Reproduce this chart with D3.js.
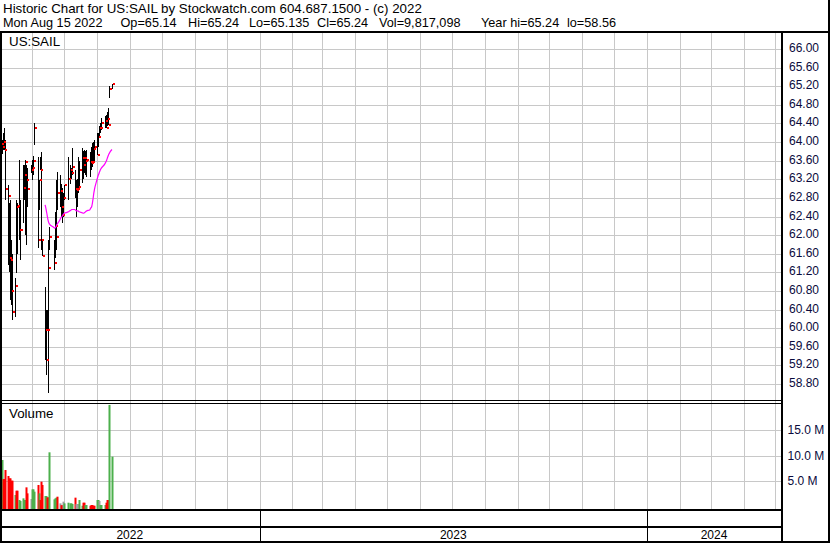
<!DOCTYPE html>
<html><head><meta charset="utf-8">
<script src="https://cdn.jsdelivr.net/npm/d3@7"></script>
<style>
body{margin:0;background:#fff}
svg{display:block}
text{font-family:"Liberation Sans",Arial,sans-serif}
</style>
</head><body>
<svg id="c" width="830" height="543"></svg>
<script>
// ---------------- DATA ----------------
const title1 = "Historic Chart for US:SAIL by Stockwatch.com 604.687.1500 - (c) 2022";
const title2Parts = ["Mon Aug 15 2022","Op=65.14","Hi=65.24","Lo=65.135","Cl=65.24","Vol=9,817,098","Year hi=65.24","lo=58.56"];
const symbol = "US:SAIL";
const volumeLabel = "Volume";

const dates = ["2022-05-02","2022-05-03","2022-05-04","2022-05-05","2022-05-06",
"2022-05-09","2022-05-10","2022-05-11","2022-05-12","2022-05-13",
"2022-05-16","2022-05-17","2022-05-18","2022-05-19","2022-05-20",
"2022-05-23","2022-05-24","2022-05-25","2022-05-26","2022-05-27",
"2022-05-31","2022-06-01","2022-06-02","2022-06-03",
"2022-06-06","2022-06-07","2022-06-08","2022-06-09","2022-06-10",
"2022-06-13","2022-06-14","2022-06-15","2022-06-16","2022-06-17",
"2022-06-21","2022-06-22","2022-06-23","2022-06-24",
"2022-06-27","2022-06-28","2022-06-29","2022-06-30","2022-07-01",
"2022-07-05","2022-07-06","2022-07-07","2022-07-08",
"2022-07-11","2022-07-12","2022-07-13","2022-07-14","2022-07-15",
"2022-07-18","2022-07-19","2022-07-20","2022-07-21","2022-07-22",
"2022-07-25","2022-07-26","2022-07-27","2022-07-28","2022-07-29",
"2022-08-01","2022-08-02","2022-08-03","2022-08-04","2022-08-05",
"2022-08-08","2022-08-09","2022-08-10","2022-08-11","2022-08-12",
"2022-08-15"];

const highs = [64.10,64.05,64.20,64.30,64.04,
63.08,62.70,62.75,61.90,61.60,
61.08,62.75,62.70,63.61,62.75,
63.51,63.51,63.61,63.51,63.45,
63.51,63.61,63.70,64.41,
63.68,63.18,63.68,63.79,61.89,
60.88,60.39,60.39,61.89,62.17,
61.89,62.50,63.18,63.35,
63.30,63.10,63.01,62.90,63.08,
63.68,63.51,63.45,63.87,
63.40,63.18,63.20,63.68,63.60,
63.87,63.80,63.83,63.80,63.83,
63.79,63.90,63.98,64.00,64.04,
64.19,64.20,64.35,64.41,64.52,
64.55,64.58,64.65,64.73,65.20,
65.24];

const lows = [63.70,63.75,63.83,63.83,62.75,
61.35,61.20,60.60,60.50,60.17,
60.24,61.18,61.60,61.89,61.46,
62.26,62.75,62.00,61.79,62.60,
63.33,63.18,63.30,63.94,
61.72,62.54,63.40,61.68,61.55,
59.31,58.99,59.96,58.60,61.68,
61.25,61.50,61.68,62.54,
62.60,62.40,62.26,62.40,62.75,
62.75,63.10,63.20,63.29,
62.80,62.39,62.60,62.90,63.00,
63.12,63.20,63.33,63.30,63.25,
63.25,63.40,63.46,63.60,63.55,
63.72,63.90,64.10,64.20,64.26,
64.30,64.30,64.35,64.37,64.95,
65.135];

const closes = [63.95,63.90,64.00,63.83,63.00,
62.84,61.50,61.46,60.80,60.34,
60.90,62.60,62.62,62.10,62.11,
63.01,63.30,63.57,63.18,63.00,
63.40,63.44,63.60,64.30,
61.89,63.18,63.40,61.90,61.55,
59.96,59.31,59.96,61.30,61.96,
61.40,62.20,61.96,62.90,
62.95,62.60,62.43,62.80,63.08,
63.20,63.40,63.33,63.46,
63.00,62.97,63.00,63.03,63.40,
63.66,63.50,63.66,63.60,63.61,
63.57,63.55,63.57,63.85,63.89,
63.72,64.10,64.30,64.30,64.40,
64.45,64.30,64.50,64.37,65.15,
65.24];

// volume in millions of shares
const volumes = [4.48,9.16,5.46,5.46,7.21,
6.04,5.59,5.59,5.13,5.13,
2.34,3.18,3.18,1.36,1.17,
1.69,1.36,1.36,3.83,2.66,
1.56,3.44,3.44,2.99,
4.29,2.66,1.36,4.94,4.29,
2.14,2.14,1.88,1.88,10.66,
1.49,1.69,1.82,2.01,
0.71,0.35,0.35,1.04,0.71,
0.84,0.71,0.71,0.58,
1.82,0.58,0.58,0.58,1.36,
0.25,0.84,0.84,0.39,0.39,
0.25,0.39,0.39,0.25,0.25,
1.36,1.36,1.17,0.39,0.39,
0.39,0.84,1.36,1.36,19.9,
9.82];

// u = up (green), d = down (red), n = unchanged (grey)
const volDirection = ["n","u","d","d","d",
"d","d","d","d","d",
"u","d","d","u","u",
"u","u","u","d","d",
"n","u","u","u",
"d","u","d","d","d",
"u","u","d","d","u",
"u","u","u","d",
"n","d","d","n","u",
"u","u","u","u",
"d","n","n","n","u",
"u","d","d","u","u",
"d","d","d","d","d",
"u","u","n","u","u",
"u","d","d","d","u",
"u"];

// 30-day moving average
const maDates = ["2022-06-13","2022-06-14","2022-06-15","2022-06-16","2022-06-17",
"2022-06-21","2022-06-22","2022-06-23","2022-06-24",
"2022-06-27","2022-06-28","2022-06-29","2022-06-30","2022-07-01",
"2022-07-05","2022-07-06","2022-07-07","2022-07-08",
"2022-07-11","2022-07-12","2022-07-13","2022-07-14","2022-07-15",
"2022-07-18","2022-07-19","2022-07-20","2022-07-21","2022-07-22",
"2022-07-25","2022-07-26","2022-07-27","2022-07-28","2022-07-29",
"2022-08-01","2022-08-02","2022-08-03","2022-08-04","2022-08-05",
"2022-08-08","2022-08-09","2022-08-10","2022-08-11","2022-08-12",
"2022-08-15"];
const maValues = [62.65,62.55,62.42,62.30,62.24,
62.17,62.15,62.17,62.22,
62.33,62.38,62.40,62.44,62.47,
62.50,62.52,62.53,62.55,
62.55,62.53,62.52,62.52,62.50,
62.48,62.47,62.48,62.50,62.52,
62.54,62.58,62.62,62.75,62.92,
63.20,63.28,63.34,63.40,63.44,
63.52,63.56,63.61,63.68,63.74,
63.84];

const priceTicks = [58.8,59.2,59.6,60.0,60.4,60.8,61.2,61.6,62.0,62.4,62.8,63.2,63.6,64.0,64.4,64.8,65.2,65.6,66.0];
const volTicks = [5,10,15];
const yearLabels = ["2022","2023","2024"];
const domainStart = "2022-05-02", domainEnd = "2024-05-06";

// ---------------- DRAW ----------------
const parse = d3.timeParse("%Y-%m-%d");
const svg = d3.select("#c");
const GRID = "#c8c8c8", AXT = "#0a0a3c";
const PX1 = 781; // right edge of plot area
const FS = 13.33;

const x = d3.scaleTime().domain([parse(domainStart), parse(domainEnd)]).range([0.5, 780.8]);
const yP = d3.scaleLinear().domain([58.8, 66.0]).range([384, 49]);
const yV = d3.scaleLinear().domain([0, 20]).range([507, 404.4]);

svg.append("rect").attr("width",830).attr("height",543).attr("fill","#fff");

// header text
svg.append("text").attr("x",3).attr("y",13).attr("font-size",FS).attr("fill","#000").text(title1);
const t2x = [3,120.5,188,249,317,379,481,567];
svg.selectAll(".t2").data(title2Parts).join("text")
  .attr("x",(d,i)=>t2x[i]).attr("y",27).attr("font-size",12.7).attr("fill","#000").text(d=>d);

// grid
const g = svg.append("g");
const months = d3.timeMonth.range(d3.timeMonth.ceil(x.domain()[0]), x.domain()[1]);
g.selectAll(".vg").data(months).join("line")
  .attr("x1",d=>Math.round(x(d))+0.5).attr("x2",d=>Math.round(x(d))+0.5)
  .attr("y1",32).attr("y2",509).attr("stroke",GRID).attr("stroke-width",1);
g.selectAll(".hg").data(priceTicks).join("line")
  .attr("x1",2).attr("x2",PX1).attr("y1",d=>Math.round(yP(d))+0.5).attr("y2",d=>Math.round(yP(d))+0.5)
  .attr("stroke",GRID);
g.selectAll(".vgv").data(volTicks).join("line")
  .attr("x1",2).attr("x2",PX1).attr("y1",d=>Math.round(yV(d))+0.5).attr("y2",d=>Math.round(yV(d))+0.5)
  .attr("stroke",GRID);

// labels in panels
svg.append("text").attr("x",9).attr("y",46).attr("font-size",FS).text(symbol);
svg.append("text").attr("x",9).attr("y",418).attr("font-size",FS).text(volumeLabel);

// price bars
const bars = dates.map((d,i)=>({d:parse(d),h:highs[i],l:lows[i],c:closes[i],v:volumes[i],dir:volDirection[i]}));
svg.append("clipPath").attr("id","pc").append("rect").attr("x",2).attr("y",33).attr("width",778).attr("height",366);
svg.append("clipPath").attr("id","vc").append("rect").attr("x",2).attr("y",404).attr("width",778).attr("height",105);
const pg = svg.append("g").attr("clip-path","url(#pc)");
pg.selectAll(".bar").data(bars).join("rect")
  .attr("x",d=>Math.round(x(d.d))).attr("y",d=>Math.round(yP(d.h)))
  .attr("width",1).attr("height",d=>Math.max(1,Math.round(yP(d.l))-Math.round(yP(d.h))))
  .attr("fill","#000");
pg.selectAll(".cl").data(bars).join("rect")
  .attr("x",d=>Math.round(x(d.d))+1).attr("y",d=>Math.round(yP(d.c))-1)
  .attr("width",2).attr("height",2).attr("fill","#ff0000");
// moving average
const ma = maDates.map((d,i)=>({d:parse(d),v:maValues[i]}));
pg.append("path").datum(ma)
  .attr("d",d3.line().x(d=>x(d.d)).y(d=>yP(d.v)).curve(d3.curveMonotoneX))
  .attr("fill","none").attr("stroke","#ff00ff").attr("stroke-width",1.2);

// volume bars
const col = {u:"#4cb04c", d:"#ff0000", n:"#a0a0a0"};
const vg = svg.append("g").attr("clip-path","url(#vc)");
vg.selectAll(".vb").data(bars).join("rect")
  .attr("x",d=>Math.round(x(d.d))-0.5).attr("y",d=>yV(d.v))
  .attr("width",2).attr("height",d=>yV(0)-yV(d.v)+2)
  .attr("fill",d=>col[d.dir]);

// axis labels (right)
svg.selectAll(".pl").data(priceTicks).join("text")
  .attr("x",789).attr("y",d=>yP(d)+3).attr("font-size",12).attr("fill",AXT)
  .text(d=>d3.format(".2f")(d));
svg.selectAll(".vl").data(volTicks).join("text")
  .attr("x",787.5).attr("y",d=>yV(d)+4).attr("font-size",12).attr("fill",AXT)
  .text(d=>d3.format(".1f")(d)+" M");

// frame lines
const blk = "#000";
function hline(x1,x2,y,w){svg.append("rect").attr("x",x1).attr("y",y).attr("width",x2-x1).attr("height",w).attr("fill",blk);}
function vline(x0,y1,y2,w){svg.append("rect").attr("x",x0).attr("y",y1).attr("width",w).attr("height",y2-y1).attr("fill",blk);}
hline(0,830,31,2);          // under header
vline(0,31,543,2);          // left
vline(781,31,543,2);        // plot/axis separator
vline(828,0,543,2);         // right
hline(0,781,400,1);         // price/volume double line
hline(0,781,403,1);
hline(0,781,509,2);         // bottom of volume
hline(0,781,526,2);         // between date rows
hline(0,830,541,2);         // bottom

// year dividers and labels
const yb = [x.range()[0]-0.5, x(parse("2023-01-01")), x(parse("2024-01-01")), PX1];
[1,2].forEach(i=>vline(Math.round(yb[i]),509,543,1));
svg.selectAll(".yl").data(yearLabels).join("text")
  .attr("x",(d,i)=>(yb[i]+yb[i+1])/2).attr("y",539).attr("text-anchor","middle")
  .attr("font-size",12).attr("fill","#000").text(d=>d);
</script>
</body></html>
